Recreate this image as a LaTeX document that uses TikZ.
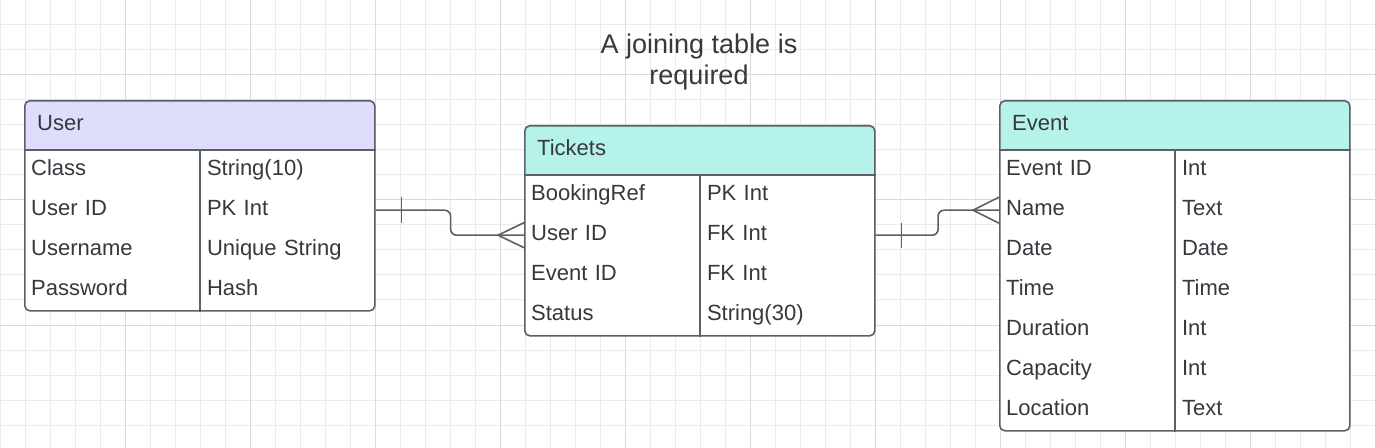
\documentclass[tikz,border=0pt]{standalone}
\usepackage{fontspec}
\setmainfont{Liberation Sans}
\usetikzlibrary{positioning}
\definecolor{framegray}{HTML}{5B5F66}
\definecolor{inkgray}{HTML}{35393E}
\definecolor{lavender}{HTML}{DEDEFC}
\definecolor{mintteal}{HTML}{B5F3EA}
\definecolor{gridminor}{HTML}{EBEBEB}
\definecolor{gridmajor}{HTML}{DADADA}

\begin{document}
\begin{tikzpicture}[
    x=1bp, y=-1bp,
    every node/.style={
        font=\fontsize{22bp}{26bp}\selectfont,
        text=inkgray,
        inner ysep=0pt
    },
    tablebox/.style={
        draw=framegray, fill=white, line width=1.6bp,
        rounded corners=5bp, anchor=north west, inner sep=0pt,
        minimum width=350bp,
        path picture={\fill[#1] (path picture bounding box.north west)
            rectangle ([yshift=-50bp]path picture bounding box.north east);}
    },
    tablehead/.style={anchor=north west, minimum height=50bp,
        inner xsep=13bp, text width=324bp, align=left,
        text height=16bp, text depth=6bp},
    cell/.style={anchor=north west, minimum height=40bp,
        inner xsep=7bp, text width=161bp, align=left,
        text height=16bp, text depth=5bp},
    rule/.style={draw=framegray, line width=1.6bp},
    link/.style={rule, rounded corners=6bp},
    gridline/.style={draw=gridminor, line width=1bp}
]
\useasboundingbox (0,0) rectangle (1375,448);
% background grid
\fill[white] (0,0) rectangle (1375,448);
\foreach \gx in {0,25,...,1375}
    \draw[gridline] (\gx,0) -- (\gx,448);
\foreach \gy in {0,25,...,450}
    \draw[gridline] (0,\gy) -- (1375,\gy);
\foreach \gx in {125,250,...,1250}
    \draw[gridline, draw=gridmajor] (\gx,0) -- (\gx,448);
\foreach \gy in {75,200,325}
    \draw[gridline, draw=gridmajor] (0,\gy) -- (1375,\gy);

\node[align=center, font=\fontsize{27bp}{31bp}\selectfont, text=inkgray] (title)
    at (699,62) {A joining table is\\required};

% User
\node[tablebox=lavender, minimum height=210bp] (user) at (24,100) {};
\draw[rule] ([yshift=-50bp]user.north west) -- ([yshift=-50bp]user.north east);
\draw[rule] ([yshift=-50bp]user.north) -- (user.south);
\node[tablehead] (user-head) at (user.north west) {User};
\foreach \name/\kind [count=\i] in {Class/String(10), User ID/PK Int,
        Username/Unique String, Password/Hash} {
    \node[cell] (user-\i) at ([yshift={-10bp-\i*40bp}]user.north west) {\name};
    \node[cell] (user-\i-type) at ([yshift={-10bp-\i*40bp}]user.north) {\kind};
}

% Tickets
\node[tablebox=mintteal, minimum height=210bp] (tickets) at (524,125) {};
\draw[rule] ([yshift=-50bp]tickets.north west) -- ([yshift=-50bp]tickets.north east);
\draw[rule] ([yshift=-50bp]tickets.north) -- (tickets.south);
\node[tablehead] (tickets-head) at (tickets.north west) {Tickets};
\foreach \name/\kind [count=\i] in {BookingRef/PK Int, User ID/FK Int,
        Event ID/FK Int, Status/String(30)} {
    \node[cell] (tickets-\i) at ([yshift={-10bp-\i*40bp}]tickets.north west) {\name};
    \node[cell] (tickets-\i-type) at ([yshift={-10bp-\i*40bp}]tickets.north) {\kind};
}

% Event
\node[tablebox=mintteal, minimum height=330bp] (event) at (999,100) {};
\draw[rule] ([yshift=-50bp]event.north west) -- ([yshift=-50bp]event.north east);
\draw[rule] ([yshift=-50bp]event.north) -- (event.south);
\node[tablehead] (event-head) at (event.north west) {Event};
\foreach \name/\kind [count=\i] in {Event ID/Int, Name/Text, Date/Date,
        Time/Time, Duration/Int, Capacity/Int, Location/Text} {
    \node[cell] (event-\i) at ([yshift={-10bp-\i*40bp}]event.north west) {\name};
    \node[cell] (event-\i-type) at ([yshift={-10bp-\i*40bp}]event.north) {\kind};
}

% relations: one to many
\coordinate (user-out) at (user.east |- user-2);
\coordinate (tickets-in) at (tickets.west |- tickets-2);
\coordinate (tickets-out) at (tickets.east |- tickets-2);
\coordinate (event-in) at (event.west |- event-2);

\draw[link] (user-out) -- ++(75,0) |- (tickets-in);
\draw[rule] ([xshift=26bp]user-out) ++(0,-13) -- ++(0,26);
\draw[rule] (tickets-in) ++(0,-12.5) -- ++(-26,12.5) -- ++(26,12.5);

\draw[link] (tickets-out) -- ++(62.5,0) |- (event-in);
\draw[rule] ([xshift=26bp]tickets-out) ++(0,-12.5) -- ++(0,25);
\draw[rule] (event-in) ++(0,-13) -- ++(-26,13) -- ++(26,13);
\end{tikzpicture}
\end{document}
